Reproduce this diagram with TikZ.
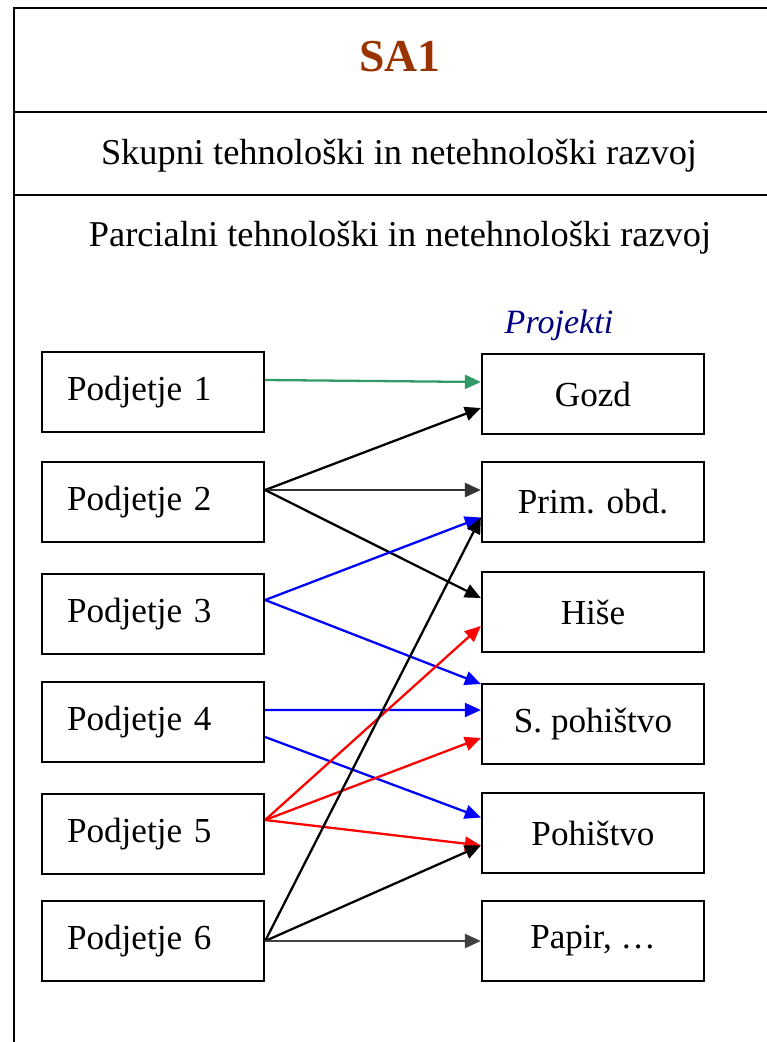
\documentclass[tikz,border=0pt]{standalone}
\usepackage{fontspec}
\setmainfont{Liberation Serif}
\usetikzlibrary{arrows.meta}
\definecolor{titlebrown}{RGB}{153,51,0}
\definecolor{projblue}{RGB}{0,0,128}
\definecolor{greenarrow}{RGB}{51,153,102}
\begin{document}
\begin{tikzpicture}[
    x=0.02cm, y=-0.02cm,
    box/.style={rectangle, draw, line width=1.3pt, minimum width=4.44cm, minimum height=1.6cm, font=\fontsize{20}{22}\selectfont},
    firm/.style={box, text width=3.44cm, inner xsep=0.5cm, align=left},
    arrow/.style={-{Triangle[length=0.32cm,width=0.28cm]}, line width=1.3pt},
    heading/.style={font=\fontsize{20.7}{24}\selectfont}
]
\useasboundingbox (0,0) rectangle (767,1042);

% Okvir
\draw[line width=1.6pt] (14,1042) -- (14,8) -- (767,8);
\draw[line width=1.6pt] (14,112) -- (767,112);
\draw[line width=1.6pt] (14,195) -- (767,195);

% Naslovi
\node[font=\fontsize{26}{30}\selectfont\bfseries, text=titlebrown] (title) at (400,57) {SA1};
\node[heading] (skupni) at (399,156) {Skupni tehnološki in netehnološki razvoj};
\node[heading] (parcialni) at (400,238) {Parcialni tehnološki in netehnološki razvoj};
\node[font=\fontsize{19.4}{22}\selectfont\itshape, text=projblue] (projekti) at (559,325) {Projekti};

% Podjetja
\node[firm] (p1) at (153,392) {Podjetje 1};
\node[firm] (p2) at (153,502) {Podjetje 2};
\node[firm] (p3) at (153,614) {Podjetje 3};
\node[firm] (p4) at (153,722) {Podjetje 4};
\node[firm] (p5) at (153,834) {Podjetje 5};
\node[firm] (p6) at (153,941) {Podjetje 6};

% Projekti
\node[box] (gozd) at (593,394) {Gozd};
\node[box] (prim) at (593,502) {Prim. obd.};
\node[box] (hise) at (593,612) {Hiše};
\node[box] (spoh) at (593,724) {S. pohištvo};
\node[box] (poh) at (593,833) {Pohištvo};
\node[box] (papir) at (593,941) {Papir, \dots};

% Povezave
\draw[arrow, greenarrow] ([yshift=0.24cm]p1.east) -- ([yshift=0.24cm]gozd.west);

\draw[arrow] ([yshift=0.24cm]p2.east) -- ([yshift=-0.28cm]gozd.west);
\draw[arrow, black!80] ([yshift=0.24cm]p2.east) -- ([yshift=0.24cm]prim.west);
\draw[arrow] ([yshift=0.24cm]p2.east) -- ([yshift=0.28cm]hise.west);

\draw[arrow, blue] ([yshift=0.28cm]p3.east) -- ([yshift=-0.31cm]prim.west);
\draw[arrow, blue] ([yshift=0.28cm]p3.east) -- ([yshift=0.8cm]spoh.west);

\draw[arrow, blue] ([yshift=0.24cm]p4.east) -- ([yshift=0.28cm]spoh.west);
\draw[arrow, blue] ([yshift=-0.3cm]p4.east) -- ([yshift=0.31cm]poh.west);

\draw[arrow, red] ([yshift=0.28cm]p5.east) -- ([yshift=-0.28cm]hise.west);
\draw[arrow, red] ([yshift=0.28cm]p5.east) -- ([yshift=-0.28cm]spoh.west);
\draw[arrow, red] ([yshift=0.28cm]p5.east) -- ([yshift=-0.25cm]poh.west);

\draw[arrow] (p6.east) -- ([yshift=-0.31cm]prim.west);
\draw[arrow] (p6.east) -- ([yshift=-0.25cm]poh.west);
\draw[arrow, black!75] (p6.east) -- (papir.west);
\end{tikzpicture}
\end{document}
